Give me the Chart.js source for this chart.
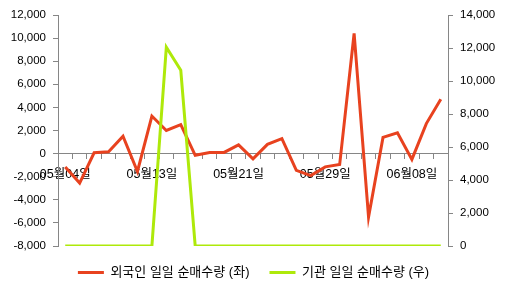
<!DOCTYPE html>
<html>
<head>
<meta charset="utf-8">
<script src="https://cdn.jsdelivr.net/npm/chart.js@4"></script>
<style>
  html, body { margin: 0; padding: 0; background: #fff; }
  #wrap { width: 507px; height: 294px; }
</style>
</head>
<body>
<div id="wrap"><canvas id="flowChart" width="507" height="294"></canvas></div>
<script>
// trading days
const dates = [
    "05월04일", "05월06일", "05월07일", "05월08일", "05월11일", "05월12일",
    "05월13일", "05월14일", "05월15일", "05월18일", "05월19일", "05월20일",
    "05월21일", "05월22일", "05월25일", "05월26일", "05월27일", "05월28일",
    "05월29일", "06월01일", "06월02일", "06월03일", "06월04일", "06월05일",
    "06월08일", "06월09일", "06월10일"
];

// 외국인 (left axis)
const foreignNet = [
    -1150, -2550, 70, 150, 1500, -1550,
    3250, 2000, 2500, -150, 100, 100,
    750, -450, 800, 1300, -1450, -1900,
    -1150, -950, 10400, -5500, 1400, 1800,
    -500, 2600, 4700
];

// 기관 (right axis)
const institutionNet = [
    0, 0, 0, 0, 0, 0,
    0, 12050, 10650, 0, 0, 0,
    0, 0, 0, 0, 0, 0,
    0, 0, 0, 0, 0, 0,
    0, 0, 0
];

const seriesNames = ["외국인 일일 순매수량 (좌)", "기관 일일 순매수량 (우)"];

const axisGray = "#868686";
const fontFamily = "'Liberation Sans', 'Noto Sans CJK KR', sans-serif";

const ctx = document.getElementById("flowChart").getContext("2d");

new Chart(ctx, {
    type: "line",
    data: {
        labels: dates,
        datasets: [
            {
                label: seriesNames[0],
                data: foreignNet,
                yAxisID: "y",
                borderColor: "#e8421f",
                backgroundColor: "#e8421f",
                borderWidth: 3,
                pointRadius: 0,
                tension: 0,
                order: 1
            },
            {
                label: seriesNames[1],
                data: institutionNet,
                yAxisID: "y1",
                borderColor: "#aee90a",
                backgroundColor: "#aee90a",
                borderWidth: 3,
                pointRadius: 0,
                tension: 0,
                order: 0
            }
        ]
    },
    options: {
        responsive: false,
        animation: false,
        layout: {
            padding: { top: 15, left: 0, right: 0, bottom: 5 }
        },
        plugins: {
            tooltip: { enabled: false },
            legend: {
                position: "bottom",
                labels: {
                    color: "#000",
                    font: { family: fontFamily, size: 13 },
                    boxWidth: 26,
                    boxHeight: 3,
                    padding: 20,
                    sort: (a, b) => a.datasetIndex - b.datasetIndex,
                    generateLabels: function (chart) {
                        const items = Chart.defaults.plugins.legend.labels.generateLabels(chart);
                        items.forEach(item => { item.lineWidth = 0; });
                        return items;
                    }
                }
            }
        },
        scales: {
            x: {
                position: { y: 0 },
                offset: true,
                grid: {
                    offset: true,
                    drawOnChartArea: false,
                    drawTicks: true,
                    tickLength: 5,
                    color: axisGray
                },
                border: { display: true, color: axisGray, width: 1 },
                ticks: {
                    autoSkip: false,
                    maxRotation: 0,
                    padding: 8,
                    color: "#000",
                    font: { family: fontFamily, size: 12.5 },
                    callback: function (value, index) {
                        return index % 6 === 0 ? this.getLabelForValue(value) : "";
                    }
                }
            },
            y: {
                position: "left",
                min: -8000,
                max: 12000,
                afterFit: function (scale) { scale.width = 58; },
                grid: {
                    drawOnChartArea: false,
                    drawTicks: true,
                    tickLength: 5,
                    color: axisGray
                },
                border: { display: true, color: axisGray, width: 1 },
                ticks: {
                    stepSize: 2000,
                    padding: 7,
                    color: "#000",
                    font: { family: fontFamily, size: 11.5 },
                    callback: v => v.toLocaleString("en-US")
                }
            },
            y1: {
                position: "right",
                min: 0,
                max: 14000,
                afterFit: function (scale) { scale.width = 59; },
                grid: {
                    drawOnChartArea: false,
                    drawTicks: true,
                    tickLength: 5,
                    color: axisGray
                },
                border: { display: true, color: axisGray, width: 1 },
                ticks: {
                    stepSize: 2000,
                    padding: 7,
                    color: "#000",
                    font: { family: fontFamily, size: 11.5 },
                    callback: v => v.toLocaleString("en-US")
                }
            }
        }
    }
});
</script>
</body>
</html>
